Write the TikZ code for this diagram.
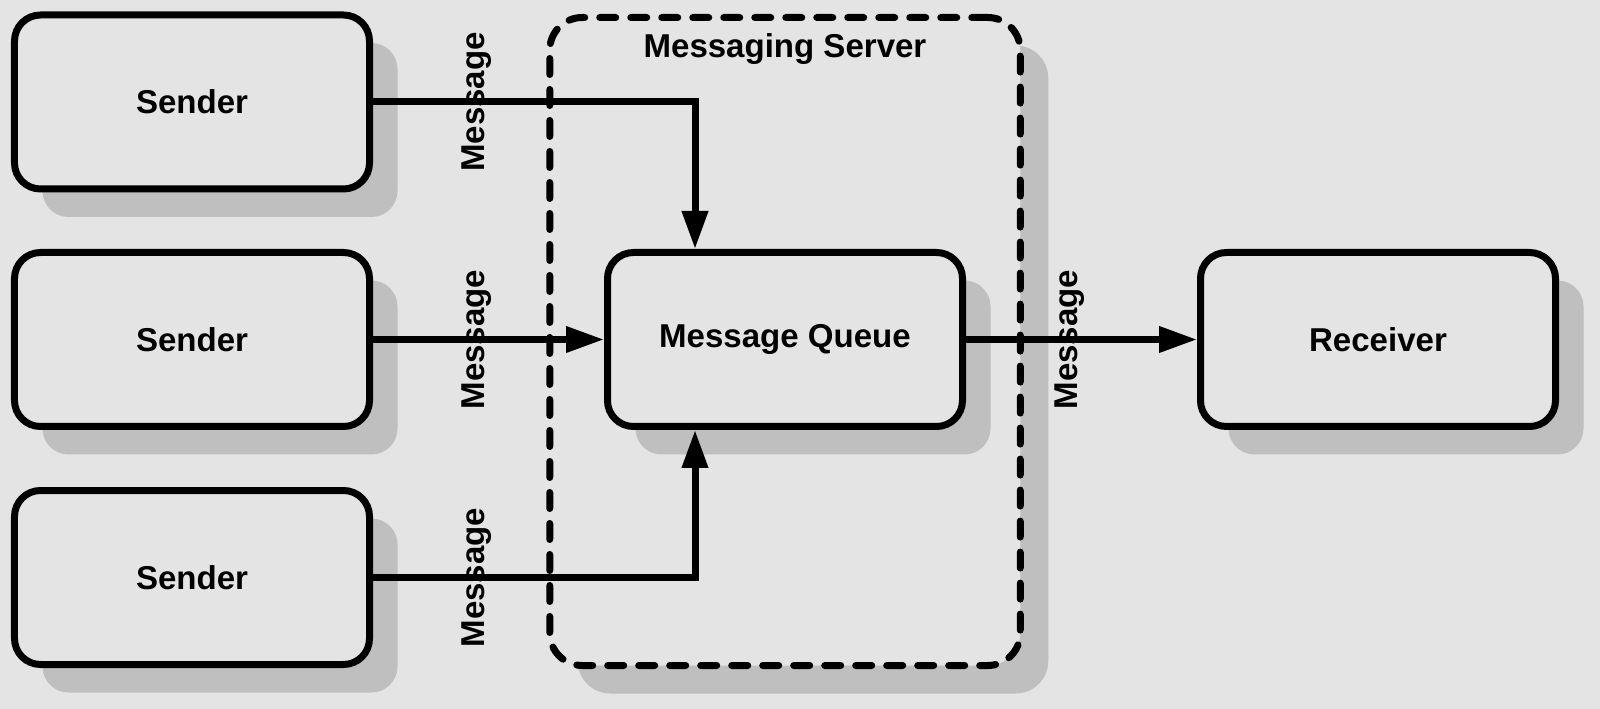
\documentclass[tikz,border=0pt]{standalone}
\usepackage{fontspec}
\setmainfont{Liberation Sans}
\usetikzlibrary{positioning,shadows,arrows.meta}
\definecolor{panelgray}{rgb}{0.894, 0.894, 0.894}
\definecolor{shadowgray}{rgb}{0.75, 0.75, 0.75}

\begin{document}
\begin{tikzpicture}[
		box/.style={draw, line width=0.14cm, rounded corners=0.52cm, fill=panelgray, minimum width=7.1cm, minimum height=3.48cm, font=\fontsize{18.8}{22}\selectfont\bfseries, drop shadow={shadow xshift=0.56cm, shadow yshift=-0.56cm, fill=shadowgray, opacity=1}},
		serverbox/.style={draw, line width=0.14cm, dash pattern=on 0.32cm off 0.30cm, line cap=round, rounded corners=0.65cm, fill=panelgray, minimum width=9.41cm, minimum height=12.96cm, drop shadow={shadow xshift=0.56cm, shadow yshift=-0.56cm, fill=shadowgray, opacity=1}},
		flow/.style={line width=0.14cm, -{Triangle[length=0.76cm, width=0.5cm]}},
		msg/.style={rotate=90, font=\fontsize{18.8}{22}\selectfont\bfseries}
	]
		
		\fill[panelgray] (0,0) rectangle (32,-14.18);
		\useasboundingbox (0,0) rectangle (32,-14.18);
		
		% server frame first, so the boxes sit on it
		\node[serverbox] (srv) at (15.70,-6.83) {};
		\node[font=\fontsize{18.8}{22}\selectfont\bfseries] (srvlabel) at ([yshift=-0.71cm]srv.north) {Messaging Server};
		
		\node[box] (s1) at (3.84,-2.04) {Sender};
		\node[box] (s2) at (3.84,-6.79) {Sender};
		\node[box] (s3) at (3.84,-11.55) {Sender};
		\node[box] (mq) at (15.70,-6.79) {Message Queue};
		\node[box] (rc) at (27.56,-6.79) {Receiver};
		
		\draw[flow] (s1.east) -| ([xshift=-1.8cm]mq.north);
		\draw[flow] (s2.east) -- (mq.west);
		\draw[flow] (s3.east) -| ([xshift=-1.8cm]mq.south);
		\draw[flow] (mq.east) -- (rc.west);
		
		\node[msg] (m1) at ([xshift=2.08cm]s1.east) {Message};
		\node[msg] (m2) at ([xshift=2.08cm]s2.east) {Message};
		\node[msg] (m3) at ([xshift=2.08cm]s3.east) {Message};
		\node[msg] (m4) at ([xshift=2.08cm]mq.east) {Message};
		
		\end{tikzpicture}
\end{document}
